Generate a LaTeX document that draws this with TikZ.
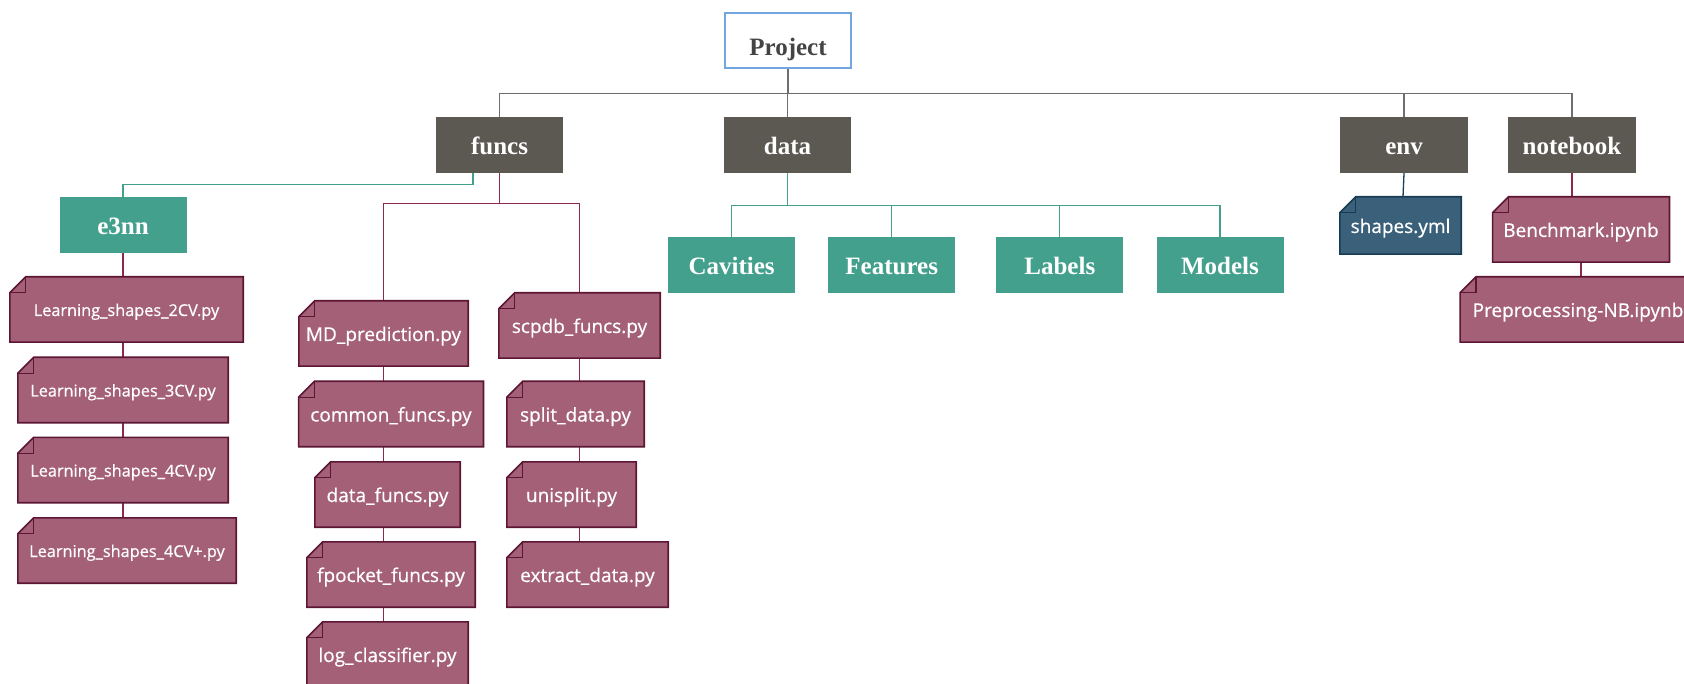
\documentclass[tikz,border=0pt]{standalone}
\usepackage{fontspec}
\setmainfont{Liberation Serif}
\newfontfamily\filefont[FakeBold=0.6]{Open Sans}
\usetikzlibrary{calc,backgrounds}

\definecolor{dirgray}{RGB}{92,89,82}
\definecolor{tealc}{RGB}{67,160,141}
\definecolor{mauve}{RGB}{164,96,119}
\definecolor{mauvedark}{RGB}{92,22,52}
\definecolor{mauveline}{RGB}{140,40,80}
\definecolor{steel}{RGB}{58,96,122}
\definecolor{steeldark}{RGB}{25,60,85}
\definecolor{projblue}{RGB}{115,165,225}
\definecolor{projtext}{RGB}{68,68,68}
\definecolor{busgray}{RGB}{110,110,110}

\tikzset{
  base/.style={inner sep=0pt, align=center},
  titlefont/.style={font=\fontsize{25}{30}\selectfont\bfseries},
  rootbox/.style={base, titlefont, draw=projblue, line width=1.2pt, fill=white,
    text=projtext, minimum width=126pt, minimum height=55pt,
    text height=30pt, text depth=0pt},
  dirbox/.style={base, titlefont, fill=dirgray, text=white,
    minimum width=127.5pt, minimum height=56pt, text height=19pt, text depth=0pt},
  subbox/.style={base, titlefont, fill=tealc, text=white,
    minimum width=127pt, minimum height=56pt, text height=19pt, text depth=0pt},
  filenode/.style={base, text=white, font=\filefont\fontsize{19}{22}\selectfont,
    minimum height=65pt, text height=15pt, text depth=0pt},
  smallfile/.style={filenode, font=\filefont\fontsize{16.3}{20}\selectfont,
    text height=13pt},
  busline/.style={draw=busgray, line width=1.3pt},
  tealline/.style={draw=tealc, line width=1.3pt},
  fileline/.style={draw=mauveline, line width=1.3pt},
  envline/.style={draw=steeldark, line width=1.3pt},
}

% note shape with a folded top-left corner, drawn behind its text node
\newcommand{\dogear}[3]{%
  \filldraw[fill=#2, draw=#3, line width=1.6pt, line join=miter]
    ([yshift=-16pt]#1.north west) -- ([xshift=16pt]#1.north west)
    -- (#1.north east) -- (#1.south east) -- (#1.south west) -- cycle;
  \draw[draw=#3, line width=1.2pt]
    ([yshift=-16pt]#1.north west) -| ([xshift=16pt]#1.north west);
}

\begin{document}
\begin{tikzpicture}[x=1pt, y=-1pt]
\useasboundingbox (0,0) rectangle (1684,684);

% root and top-level folders
\node[rootbox] (project) at (788,40.5) {Project};
\node[dirbox] (funcs) at (499.5,145) {funcs};
\node[dirbox] (data) at (787.5,145) {data};
\node[dirbox] (env) at (1404,145) {env};
\node[dirbox] (notebook) at (1572,145) {notebook};

% sub-folders
\node[subbox] (e3nn) at (123,225) {e3nn};
\node[subbox] (cav) at (731.6,265.5) {Cavities};
\node[subbox] (feat) at (891.7,265.5) {Features};
\node[subbox] (lab) at (1059.8,265.5) {Labels};
\node[subbox] (mod) at (1220,265.5) {Models};

% e3nn files
\node[smallfile, minimum width=233pt] (l2) at (126.5,309.5) {Learning\_shapes\_2CV.py};
\node[smallfile, minimum width=210pt] (l3) at (123,390) {Learning\_shapes\_3CV.py};
\node[smallfile, minimum width=210pt] (l4) at (123,470) {Learning\_shapes\_4CV.py};
\node[smallfile, minimum width=218pt] (l4p) at (127,550.5) {Learning\_shapes\_4CV+.py};

% funcs files, first column
\node[filenode, minimum width=169pt] (md) at (383.5,333.5) {MD\_prediction.py};
\node[filenode, minimum width=184.5pt] (common) at (391,414) {common\_funcs.py};
\node[filenode, minimum width=145pt] (dfuncs) at (387.5,494.5) {data\_funcs.py};
\node[filenode, minimum width=168pt] (fpocket) at (391,574.5) {fpocket\_funcs.py};
\node[filenode, minimum width=161pt] (logc) at (387.5,654.5) {log\_classifier.py};

% funcs files, second column
\node[filenode, minimum width=161pt] (scpdb) at (579.5,325.5) {scpdb\_funcs.py};
\node[filenode, minimum width=137pt] (split) at (575.5,414) {split\_data.py};
\node[filenode, minimum width=129pt] (unisplit) at (571.5,494.5) {unisplit.py};
\node[filenode, minimum width=161pt] (extract) at (587.5,574.5) {extract\_data.py};

% env and notebook files
\node[filenode, minimum width=121pt, minimum height=57pt] (shapes) at (1400.5,225.5) {shapes.yml};
\node[filenode, minimum width=176.5pt] (bench) at (1581,229.5) {Benchmark.ipynb};
\node[filenode, minimum width=235.5pt] (prep) at (1578,309.5) {Preprocessing-NB.ipynb};

\begin{scope}[on background layer]
  % root bus
  \draw[busline] (project.south) -- ($(project.south)+(0,25)$);
  \draw[busline] (funcs.north) |- ($(project.south)+(0,25)$) -| (notebook.north);
  \draw[busline] (data.north) -- ($(data.north)+(0,-24)$);
  \draw[busline] (env.north) -- ($(env.north)+(0,-24)$);

  % funcs branches
  \draw[tealline] ([xshift=-26.5pt]funcs.south) |- ($(e3nn.north)+(0,-12)$) -- (e3nn.north);
  \draw[fileline] (funcs.south) -- ($(funcs.south)+(0,30)$);
  \draw[fileline] (md.north) |- ($(funcs.south)+(0,30)$) -| (scpdb.north);

  % data branches
  \draw[tealline] (data.south) -- ($(data.south)+(0,32.3)$);
  \draw[tealline] (cav.north) |- ($(data.south)+(0,32.3)$) -| (mod.north);
  \draw[tealline] (feat.north) -- ($(feat.north)+(0,-32.4)$);
  \draw[tealline] (lab.north) -- ($(lab.north)+(0,-32.4)$);

  % file chains
  \draw[fileline] (e3nn.south) -- (e3nn.south |- l2.north);
  \draw[fileline] (l2.south -| e3nn.south) -- (l3.north -| e3nn.south);
  \draw[fileline] (l3.south -| e3nn.south) -- (l4.north -| e3nn.south);
  \draw[fileline] (l4.south -| e3nn.south) -- (l4p.north -| e3nn.south);

  \draw[fileline] (md.south) -- (md.south |- common.north);
  \draw[fileline] (common.south -| md.south) -- (dfuncs.north -| md.south);
  \draw[fileline] (dfuncs.south -| md.south) -- (fpocket.north -| md.south);
  \draw[fileline] (fpocket.south -| md.south) -- (logc.north -| md.south);

  \draw[fileline] (scpdb.south) -- (scpdb.south |- split.north);
  \draw[fileline] (split.south -| scpdb.south) -- (unisplit.north -| scpdb.south);
  \draw[fileline] (unisplit.south -| scpdb.south) -- (extract.north -| scpdb.south);

  \draw[envline] (env.south) -- ([xshift=-1pt]env.south |- shapes.north);
  \draw[fileline] (notebook.south) -- (notebook.south |- bench.north);
  \draw[fileline] (bench.south) -- (bench.south |- prep.north);

  % note shapes
  \foreach \n in {l2,l3,l4,l4p,md,common,dfuncs,fpocket,logc,scpdb,split,unisplit,extract,bench,prep}{
    \dogear{\n}{mauve}{mauvedark}
  }
  \dogear{shapes}{steel}{steeldark}
\end{scope}
\end{tikzpicture}
\end{document}
